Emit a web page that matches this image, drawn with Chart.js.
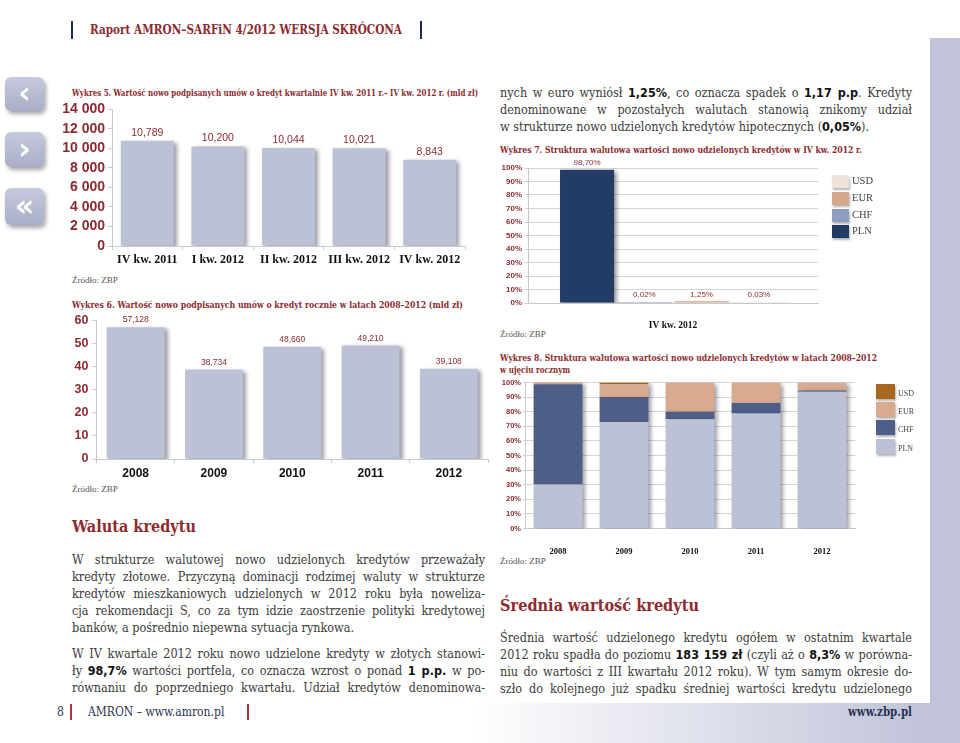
<!DOCTYPE html>
<html>
<head>
<meta charset="utf-8">
<script src="https://cdn.jsdelivr.net/npm/chart.js@4.4.0/dist/chart.umd.min.js"></script>
<style>
body{margin:0;width:960px;height:743px;position:relative;overflow:hidden;background:#fff;font-family:'DejaVu Serif',serif}
.a{position:absolute;white-space:nowrap;transform-origin:left center}
.hd{font-weight:bold;font-size:12.5px;line-height:16px;color:#8b2b30;font-stretch:condensed}
.tt{font-weight:bold;font-size:10px;line-height:12px;color:#8b2b30;font-stretch:condensed}
.src{font-size:9px;line-height:12px;color:#555;font-family:'Liberation Serif',serif}
.bd{font-size:12.5px;line-height:17px;color:#3b3b3b;font-stretch:condensed}
.bd b{font-family:'DejaVu Sans',sans-serif;font-weight:bold;color:#111}
.h2{font-weight:bold;font-size:17px;line-height:20px;color:#8f2a2e;font-stretch:condensed}
.ft{font-size:12px;line-height:14px;color:#2a3352;font-stretch:condensed}
.vbar{position:absolute;width:2px}
.ic{position:absolute;left:5px;width:39px;border-radius:6px;background:linear-gradient(#c7cadd,#a9adc7);box-shadow:2px 3px 4px rgba(0,0,0,.35);color:#fff;font:bold 30px 'DejaVu Sans',sans-serif;text-align:center}
.cv{position:absolute}
.lg{position:absolute;font-family:'Liberation Serif',serif;color:#444}
.lg i{position:absolute;left:0;box-shadow:1px 2px 2px rgba(0,0,0,.3)}
.lg span{position:absolute;white-space:nowrap}
</style>
</head>
<body>
<!-- page frame -->
<div style="position:absolute;left:930px;top:38px;width:30px;height:705px;background:#c0c3d9"></div>
<div style="position:absolute;left:470px;top:703px;width:460px;height:40px;background:linear-gradient(to right,#fff,#c0c3d9)"></div>

<div class="ic" style="top:77px;height:34px;line-height:32px">‹</div>
<div class="ic" style="top:132px;height:35px;line-height:33px">›</div>
<div class="ic" style="top:188px;height:37px;line-height:35px">«</div>

<div class="vbar" style="left:71px;top:21px;height:18px;background:#1d2b4f"></div>
<span class="a hd" data-w="312" style="left:90px;top:22px">Raport AMRON–SARFiN 4/2012 WERSJA SKRÓCONA</span>
<div class="vbar" style="left:420px;top:21px;height:18px;background:#1d2b4f"></div>

<!-- chart titles -->
<span class="a tt" data-w="406" style="left:72px;top:87px">Wykres 5. Wartość nowo podpisanych umów o kredyt kwartalnie IV kw. 2011 r.– IV kw. 2012 r. (mld zł)</span>
<span class="a src" style="left:72px;top:274px">Źródło: ZBP</span>
<span class="a tt" data-w="391" style="left:72px;top:299px">Wykres 6. Wartość nowo podpisanych umów o kredyt rocznie w latach 2008–2012 (mld zł)</span>
<span class="a src" style="left:72px;top:483px">Źródło: ZBP</span>
<span class="a tt" data-w="362" style="left:500px;top:144px">Wykres 7. Struktura walutowa wartości nowo udzielonych kredytów w IV kw. 2012 r.</span>
<span class="a src" style="left:500px;top:328px">Źródło: ZBP</span>
<span class="a tt" data-w="377" style="left:500px;top:352px">Wykres 8. Struktura walutowa wartości nowo udzielonych kredytów w latach 2008–2012</span>
<span class="a tt" data-w="70" style="left:500px;top:364px">w ujęciu rocznym</span>
<span class="a src" style="left:500px;top:555px">Źródło: ZBP</span>

<!-- charts -->
<div class="cv" style="left:60px;top:98px"><canvas id="c5" width="420" height="180"></canvas></div>
<div class="cv" style="left:60px;top:308px"><canvas id="c6" width="435" height="180"></canvas></div>
<div class="cv" style="left:490px;top:157px"><canvas id="c7" width="340" height="180"></canvas></div>
<div class="cv" style="left:490px;top:374px"><canvas id="c8" width="375" height="185"></canvas></div>
<div id="lg7"></div>
<div id="lg8"></div>

<!-- right column, top -->
<span class="a bd" data-w="412" data-j="1" style="left:500px;top:83.5px">nych w euro wyniósł <b>1,25%</b>, co oznacza spadek o <b>1,17 p.p</b>. Kredyty</span>
<span class="a bd" data-w="412" data-j="1" style="left:500px;top:100.5px">denominowane w pozostałych walutach stanowią znikomy udział</span>
<span class="a bd" data-w="393" style="left:500px;top:117.5px">w strukturze nowo udzielonych kredytów hipotecznych (<b>0,05%</b>).</span>

<!-- left column text -->
<span class="a h2" data-w="124" style="left:72px;top:516px">Waluta kredytu</span>
<span class="a bd" data-w="413" data-j="1" style="left:72px;top:550.5px">W strukturze walutowej nowo udzielonych kredytów przeważały</span>
<span class="a bd" data-w="413" data-j="1" style="left:72px;top:567.5px">kredyty złotowe. Przyczyną dominacji rodzimej waluty w strukturze</span>
<span class="a bd" data-w="413" data-j="1" style="left:72px;top:584.5px">kredytów mieszkaniowych udzielonych w 2012 roku była noweliza-</span>
<span class="a bd" data-w="413" data-j="1" style="left:72px;top:601.5px">cja rekomendacji S, co za tym idzie zaostrzenie polityki kredytowej</span>
<span class="a bd" data-w="305" style="left:72px;top:618.5px">banków, a pośrednio niepewna sytuacja rynkowa.</span>
<span class="a bd" data-w="413" data-j="1" style="left:72px;top:644.5px">W IV kwartale 2012 roku nowo udzielone kredyty w złotych stanowi-</span>
<span class="a bd" data-w="413" data-j="1" style="left:72px;top:661.5px">ły <b>98,7%</b> wartości portfela, co oznacza wzrost o ponad <b>1 p.p.</b> w po-</span>
<span class="a bd" data-w="413" data-j="1" style="left:72px;top:678.5px">równaniu do poprzedniego kwartału. Udział kredytów denominowa-</span>

<!-- right column, bottom -->
<span class="a h2" data-w="199" style="left:500px;top:595px">Średnia wartość kredytu</span>
<span class="a bd" data-w="412" data-j="1" style="left:500px;top:628.5px">Średnia wartość udzielonego kredytu ogółem w ostatnim kwartale</span>
<span class="a bd" data-w="412" data-j="1" style="left:500px;top:645.5px">2012 roku spadła do poziomu <b>183 159 zł</b> (czyli aż o <b>8,3%</b> w porówna-</span>
<span class="a bd" data-w="412" data-j="1" style="left:500px;top:662.5px">niu do wartości z III kwartału 2012 roku). W tym samym okresie do-</span>
<span class="a bd" data-w="412" data-j="1" style="left:500px;top:679.5px">szło do kolejnego już spadku średniej wartości kredytu udzielonego</span>

<!-- footer -->
<span class="a ft" style="left:57px;top:705px">8</span>
<div class="vbar" style="left:70px;top:704px;height:16px;width:1.5px;background:#b0343a"></div>
<span class="a ft" data-w="142" style="left:88px;top:705px">AMRON – www.amron.pl</span>
<div class="vbar" style="left:247px;top:704px;height:16px;width:1.5px;background:#b0343a"></div>
<span class="a ft" data-w="64" style="left:848px;top:705px;font-weight:bold">www.zbp.pl</span>

<script>
// dane
const quarterLabels = ['IV kw. 2011', 'I kw. 2012', 'II kw. 2012', 'III kw. 2012', 'IV kw. 2012'];
const quarterValues = [10789, 10200, 10044, 10021, 8843];

const yearLabels = ['2008', '2009', '2010', '2011', '2012'];
const yearValues = [57.128, 38.734, 48.660, 49.210, 39.108];

const currencyNames = ['PLN', 'CHF', 'EUR', 'USD'];
const q4Label = ['IV kw. 2012'];
const q4Shares = [98.70, 0.02, 1.25, 0.03];

const plnShare = [30.1, 73.0, 74.9, 78.8, 93.6];
const chfShare = [68.7, 17.1, 5.0, 7.2, 0.9];
const eurShare = [1.0, 8.7, 20.1, 14.0, 5.5];
const usdShare = [0.2, 1.2, 0, 0, 0];

const DARKRED = '#8b2b30';
const AXIS = '#c9c9cc';
const BAR = '#bcc1d6';
const colors7 = ['#223c66', '#8c9dbf', '#d4a68b', '#efe4da'];
const colors8 = ['#bcc1d6', '#4e5e86', '#d8aa8f', '#a6681f'];

function fitText() {
    document.querySelectorAll('[data-w]').forEach(el => {
        const w = +el.dataset.w;
        const nat = el.getBoundingClientRect().width;
        if (el.dataset.j && nat < w) {
            const gaps = (el.textContent.match(/ /g) || []).length;
            if (gaps) el.style.wordSpacing = ((w - nat) / gaps) + 'px';
        } else if (nat > w) {
            el.style.transform = 'scaleX(' + (w / nat) + ')';
        }
    });
}
fitText();

// cien pod slupkami + etykiety wartosci
function deco(format, font, offset) {
    return {
        id: 'deco',
        beforeDatasetsDraw(chart) {
            const ctx = chart.ctx;
            ctx.save();
            ctx.shadowColor = 'rgba(40,40,60,0.45)';
            ctx.shadowBlur = 4;
            ctx.shadowOffsetX = 3;
            ctx.shadowOffsetY = 2;
        },
        afterDatasetsDraw(chart) {
            const ctx = chart.ctx;
            ctx.restore();
            if (!format) return;
            ctx.save();
            ctx.font = font;
            ctx.fillStyle = DARKRED;
            ctx.textAlign = 'center';
            ctx.textBaseline = 'middle';
            chart.data.datasets.forEach((ds, i) => {
                chart.getDatasetMeta(i).data.forEach((el, j) => {
                    ctx.fillText(format(ds.data[j]), el.x, el.y - offset);
                });
            });
            ctx.restore();
        }
    };
}

function spaced(v) {
    return String(v).replace(/\B(?=(\d{3})+(?!\d))/g, ' ');
}

function axisX(font, h, tickLen, pad) {
    return {
        grid: {display: true, drawOnChartArea: false, drawTicks: true, tickLength: tickLen, color: AXIS, offset: true},
        border: {color: AXIS},
        ticks: {color: '#111', font: font, padding: pad, maxRotation: 0, autoSkip: false},
        afterFit(s) { s.height = h; }
    };
}

// Wykres 5
new Chart(document.getElementById('c5').getContext('2d'), {
    type: 'bar',
    data: {
        labels: quarterLabels,
        datasets: [{data: quarterValues, backgroundColor: BAR, categoryPercentage: 0.75, barPercentage: 1}]
    },
    options: {
        responsive: false, animation: false,
        layout: {padding: {top: 10.5, right: 15, left: 0, bottom: 0}},
        plugins: {legend: {display: false}, tooltip: {enabled: false}},
        scales: {
            x: axisX({family: 'Liberation Serif', weight: 'bold', size: 12}, 32, 4, 3),
            y: {
                min: 0, max: 14000,
                ticks: {stepSize: 2000, autoSkip: false, color: DARKRED, padding: 3, font: {family: 'Liberation Sans', weight: 'bold', size: 14}, callback: v => spaced(v)},
                grid: {drawOnChartArea: false, tickLength: 4, color: AXIS},
                border: {color: AXIS},
                afterFit(s) { s.width = 52; }
            }
        }
    },
    plugins: [deco(v => (v / 1000).toFixed(3).replace('.', ','), '10.5px "Liberation Sans"', 8)]
});

// Wykres 6
new Chart(document.getElementById('c6').getContext('2d'), {
    type: 'bar',
    data: {
        labels: yearLabels,
        datasets: [{data: yearValues, backgroundColor: BAR, categoryPercentage: 0.74, barPercentage: 1}]
    },
    options: {
        responsive: false, animation: false,
        layout: {padding: {top: 12.5, right: 7, left: 0, bottom: 0}},
        plugins: {legend: {display: false}, tooltip: {enabled: false}},
        scales: {
            x: axisX({family: 'Liberation Sans', weight: 'bold', size: 12}, 29, 4, 3),
            y: {
                min: 0, max: 60,
                ticks: {stepSize: 10, autoSkip: false, color: DARKRED, padding: 4, font: {family: 'Liberation Sans', weight: 'bold', size: 12.5}},
                grid: {drawOnChartArea: false, tickLength: 4, color: AXIS},
                border: {color: AXIS},
                afterFit(s) { s.width = 36.5; }
            }
        }
    },
    plugins: [deco(v => v.toFixed(3).replace('.', ','), '8.5px "Liberation Sans"', 7)]
});

// Wykres 7
new Chart(document.getElementById('c7').getContext('2d'), {
    type: 'bar',
    data: {
        labels: q4Label,
        datasets: currencyNames.map((n, i) => ({
            label: n, data: [q4Shares[i]], backgroundColor: colors7[i],
            categoryPercentage: 0.79, barPercentage: 0.945, minBarLength: 1
        }))
    },
    options: {
        responsive: false, animation: false,
        layout: {padding: {top: 11, right: 12, left: 0, bottom: 0}},
        plugins: {legend: {display: false}, tooltip: {enabled: false}},
        scales: {
            x: {
                grid: {display: false},
                border: {color: AXIS},
                ticks: {color: '#111', padding: 9, font: {family: 'Liberation Serif', weight: 'bold', size: 9.5}},
                afterFit(s) { s.height = 34; }
            },
            y: {
                min: 0, max: 100,
                ticks: {stepSize: 10, autoSkip: false, color: DARKRED, padding: 3, font: {family: 'Liberation Sans', weight: 'bold', size: 8}, callback: v => v + '%'},
                grid: {color: '#d4d4d6', tickLength: 3},
                border: {color: AXIS},
                afterFit(s) { s.width = 38; }
            }
        }
    },
    plugins: [deco(v => v.toFixed(2).replace('.', ',') + '%', '8px "Liberation Sans"', 7)]
});

// Wykres 8
const shares8 = [plnShare, chfShare, eurShare, usdShare];
new Chart(document.getElementById('c8').getContext('2d'), {
    type: 'bar',
    data: {
        labels: yearLabels,
        datasets: currencyNames.map((n, i) => ({
            label: n, data: shares8[i], backgroundColor: colors8[i],
            categoryPercentage: 0.74, barPercentage: 1
        }))
    },
    options: {
        responsive: false, animation: false,
        layout: {padding: {top: 8.5, right: 10, left: 0, bottom: 0}},
        plugins: {legend: {display: false}, tooltip: {enabled: false}},
        scales: {
            x: {
                stacked: true,
                grid: {display: false},
                border: {color: AXIS},
                ticks: {color: '#111', padding: 10, font: {family: 'Liberation Serif', weight: 'bold', size: 8.5}},
                afterFit(s) { s.height = 30.5; }
            },
            y: {
                stacked: true, min: 0, max: 100,
                ticks: {stepSize: 10, autoSkip: false, color: DARKRED, padding: 2, font: {family: 'Liberation Sans', weight: 'bold', size: 7.5}, callback: v => v + '%'},
                grid: {color: '#d4d4d6', tickLength: 2},
                border: {color: AXIS},
                afterFit(s) { s.width = 35; }
            }
        }
    },
    plugins: [deco(null)]
});

// legendy (odwrocona kolejnosc: USD na gorze)
function legend(id, colors, x, y, bw, bh, step, size, ty) {
    const box = document.getElementById(id);
    box.className = 'lg';
    box.style.left = x + 'px';
    box.style.top = y + 'px';
    box.style.fontSize = size + 'px';
    currencyNames.slice().reverse().forEach((n, k) => {
        const i = currencyNames.length - 1 - k;
        const sw = document.createElement('i');
        sw.style.cssText = `top:${k * step}px;width:${bw}px;height:${bh}px;background:${colors[i]}`;
        const tx = document.createElement('span');
        tx.textContent = n;
        tx.style.cssText = `left:${bw + 3}px;top:${k * step + ty}px;line-height:${size + 2}px`;
        box.appendChild(sw);
        box.appendChild(tx);
    });
}
legend('lg7', colors7, 832, 175, 17, 13, 16.8, 10.5, 0);
legend('lg8', colors8, 876, 384, 19, 15, 18.2, 8, 5);
</script>
</body>
</html>
